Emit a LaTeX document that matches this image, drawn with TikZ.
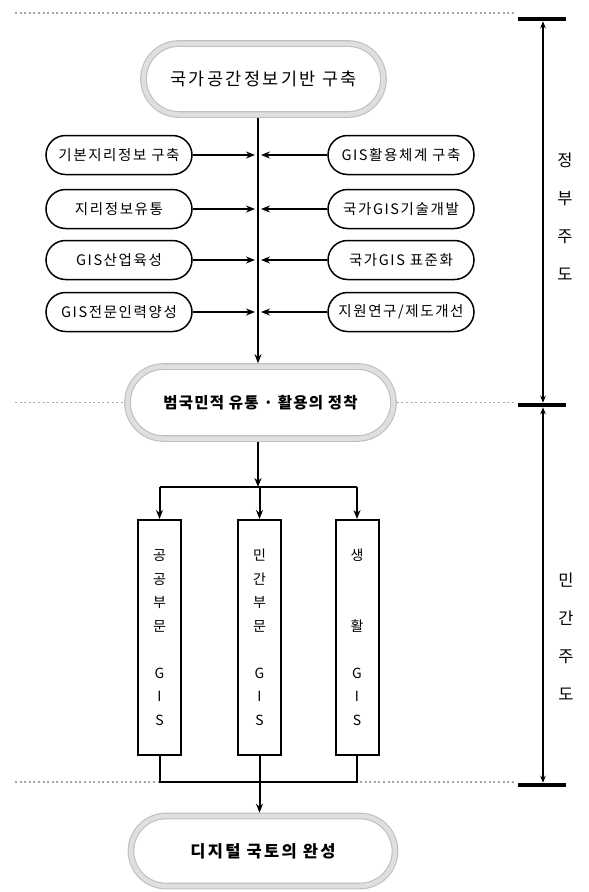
\documentclass[tikz,border=0pt]{standalone}
\usepackage{fontspec}
\setmainfont{Noto Sans CJK KR}
\usetikzlibrary{shapes.misc,arrows.meta}
\newcommand\trk[1]{\addfontfeature{LetterSpace=#1}}
\tikzset{
  bigbox/.style={rounded rectangle, draw=gray!50, double=gray!25, double distance=4.5pt,
    line width=1.1pt, inner sep=0pt, outer sep=3.3pt, fill=white},
  smallbox/.style={rounded rectangle, draw=black, line width=1.5pt, minimum width=146pt,
    minimum height=39pt, inner sep=0pt, outer sep=0.75pt, fill=white,
    font=\fontsize{14.5}{16}\selectfont\trk{11}},
  vbox/.style={rectangle, draw=black, line width=2pt, minimum width=43pt, minimum height=235pt,
    inner sep=0pt, outer sep=1pt, align=center, font=\fontsize{14}{23.5}\selectfont},
  arr/.style={line width=2pt, -{Stealth[length=9pt,width=7pt]}},
  conn/.style={line width=2pt},
  sep/.style={line width=1.3pt, gray!70, dash pattern=on 2pt off 2.6pt},
  bar/.style={line width=4.5pt},
  sidearr/.style={line width=1.7pt, {Stealth[length=7pt,width=5.5pt]}-{Stealth[length=7pt,width=5.5pt]},
    shorten <=2.3pt, shorten >=2.3pt},
  side/.style={align=center, font=\fontsize{16.5}{38}\selectfont},
}
\begin{document}
\begin{tikzpicture}[x=1pt,y=-1pt]
\useasboundingbox[fill=white] (0,0) rectangle (589,892);

% dotted separators (background)
\coordinate (d1l) at (15,13);   \coordinate (d1r) at (514,13);
\coordinate (d2l) at (15,402.5);\coordinate (d2r) at (514,402.5);
\coordinate (d3l) at (15,782);  \coordinate (d3r) at (514,782);
\draw[sep] (d1l) -- (d1r);
\draw[sep] (d3l) -- (d3r);

% main boxes
\node[bigbox, minimum width=240pt, minimum height=71pt, font=\fontsize{17.5}{19}\selectfont\trk{14}]
  (top) at (263.5,79) {국가공간정보기반 구축};
\node[bigbox, minimum width=266pt, minimum height=72pt, font=\fontsize{15.5}{18}\selectfont\bfseries\trk{8}]
  (mid) at (260.5,402.5) {범국민적 유통 · 활용의 정착};
\node[bigbox, minimum width=264pt, minimum height=70pt, font=\fontsize{16.5}{18}\selectfont\bfseries\trk{14}]
  (bot) at (263,851) {디지털 국토의 완성};

\draw[sep] (d2l) -- (mid.west);
\draw[sep] (mid.east) -- (d2r);

% small boxes
\node[smallbox] (L1) at (119,155) {기본지리정보 구축};
\node[smallbox] (L2) at (119,209) {지리정보유통};
\node[smallbox] (L3) at (119,260) {GIS산업육성};
\node[smallbox] (L4) at (119,312) {GIS전문인력양성};
\node[smallbox] (R1) at (401,155) {GIS활용체계 구축};
\node[smallbox] (R2) at (401,209) {국가GIS기술개발};
\node[smallbox] (R3) at (401,260) {국가GIS 표준화};
\node[smallbox] (R4) at (401,312) {지원연구/제도개선};

% spine
\coordinate (sp) at (258,0);
\draw[arr] (top.south -| sp) -- (mid.north -| sp);
\foreach \i in {1,2,3,4}{
  \draw[arr, shorten >=3pt] (L\i.east) -- (L\i.east -| sp);
  \draw[arr, shorten >=3pt] (R\i.west) -- (R\i.west -| sp);
}

% vertical boxes
\node[vbox] (V1) at (159.5,637.5) {공\\공\\부\\문\\\mbox{}\\G\\I\\S};
\node[vbox] (V2) at (259.5,637.5) {민\\간\\부\\문\\\mbox{}\\G\\I\\S};
\node[vbox] (V3) at (357,637.5) {생\\\mbox{}\\\mbox{}\\활\\\mbox{}\\G\\I\\S};

% branch
\coordinate (br) at (258,487);
\draw[arr] (mid.south -| sp) -- (br);
\draw[conn] (V1.north |- br) -- (V3.north |- br);
\draw[arr] (V1.north |- br) -- (V1.north);
\draw[arr] (V2.north |- br) -- (V2.north);
\draw[arr] (V3.north |- br) -- (V3.north);

% join
\coordinate (jn) at (258,782);
\draw[conn] (V1.south) -- (V1.south |- jn) -- (V3.south |- jn) -- (V3.south);
\draw[arr] (V2.south) -- (V2.south |- bot.north);

% right scale
\coordinate (bT) at (543,19);
\coordinate (bM) at (543,405);
\coordinate (bB) at (543,785);
\draw[bar] ([xshift=-25pt]bT) -- ([xshift=23pt]bT);
\draw[bar] ([xshift=-25pt]bM) -- ([xshift=23pt]bM);
\draw[bar] ([xshift=-25pt]bB) -- ([xshift=23pt]bB);
\draw[sidearr] (bT) -- (bM);
\draw[sidearr] (bM) -- (bB);
\node[side] (gov) at (565,217) {정\\부\\주\\도};
\node[side] (pri) at (566,637) {민\\간\\주\\도};
\end{tikzpicture}
\end{document}
